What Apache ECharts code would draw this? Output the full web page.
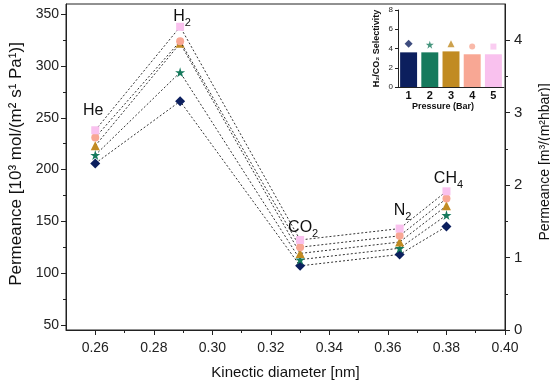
<!DOCTYPE html>
<html><head><meta charset="utf-8">
<script src="https://cdn.jsdelivr.net/npm/echarts@6/dist/echarts.min.js"></script>
<style>html,body{margin:0;padding:0;background:#fff}#c{width:550px;height:385px}</style>
</head><body><div id="c"></div>
<script>
// ---- data ----
const gases = ['He', 'H2', 'CO2', 'N2', 'CH4'];
const kineticDiameter = [0.26, 0.289, 0.33, 0.364, 0.38];
const permDiamond = [206, 266, 107, 118, 145];
const permStar = [214, 294, 113, 124, 156];
const permTriangle = [223, 322, 119, 130, 165];
const permCircle = [231, 324, 125, 136, 172];
const permSquare = [238, 338, 132, 143, 179];
const xTickLabels = [0.26, 0.28, 0.30, 0.32, 0.34, 0.36, 0.38, 0.40];
const xMinorTicks = [0.27, 0.29, 0.31, 0.33, 0.35, 0.37, 0.39];
const yTickLabels = [50, 100, 150, 200, 250, 300, 350];
const yMinorTicks = [75, 125, 175, 225, 275, 325];
const rightTickLabels = [0, 1, 2, 3, 4];
const rightMinorTicks = [0.5, 1.5, 2.5, 3.5];
const pressures = ['1', '2', '3', '4', '5'];
const selectivityBars = [3.6, 3.6, 3.7, 3.4, 3.4];
const selectivityMarkers = [4.5, 4.4, 4.5, 4.2, 4.2];

// ---- styles ----
const colors = ['#0c1f5e', '#167a5d', '#c18b22', '#f8a794', '#f9c1ee'];
const symbols = ['diamond', 'path://M50,0 L61,35 L98,35 L68,57 L79,91 L50,70 L21,91 L32,57 L2,35 L39,35 Z', 'triangle', 'circle', 'rect'];
const symbolSizes = [10, 10, 9, 8, 8];
const labelOffsets = [[-2, -4], [2, 10], [3, 8], [3, 2], [2, 7]];
const FONT = 'Liberation Sans, Arial, sans-serif';
const AX = '#222';

function richName(g) {
  return g.replace(/^([A-Za-z]+)(\d*)$/, (m, a, d) => '{a|' + a + '}' + (d ? '{s|' + d + '}' : ''));
}

const permSets = [permDiamond, permStar, permTriangle, permCircle, permSquare];
const lineSeries = permSets.map((vals, i) => ({
  type: 'line',
  xAxisIndex: 0, yAxisIndex: 0,
  data: vals.map((v, j) => {
    const item = { value: [kineticDiameter[j], v] };
    if (i === 4) {
      item.label = {
        show: true, position: 'top', distance: 4, offset: labelOffsets[j],
        formatter: richName(gases[j]),
        rich: {
          a: { fontSize: 16, fontFamily: FONT, color: '#111', lineHeight: 16, verticalAlign: 'top' },
          s: { fontSize: 11, fontFamily: FONT, color: '#111', lineHeight: 20, verticalAlign: 'bottom' }
        }
      };
    }
    return item;
  }),
  symbol: symbols[i], symbolSize: symbolSizes[i],
  itemStyle: { color: colors[i] },
  lineStyle: { color: '#333', width: 1, type: [2, 2] },
  z: 3 + i
}));

const chart = echarts.init(document.getElementById('c'), null, { renderer: 'canvas' });
const tickStyle = { color: AX, width: 1 };
chart.setOption({
  animation: false,
  textStyle: { fontFamily: FONT },
  grid: [
    { left: 66, right: 45, top: 4, bottom: 55, show: true, borderColor: AX, borderWidth: 1, containLabel: false, outerBoundsMode: 'none' },
    { left: 398, right: 46, top: 10, bottom: 298, show: false, containLabel: false, outerBoundsMode: 'none' }
  ],
  xAxis: [
    {
      type: 'value', gridIndex: 0, min: 0.25, max: 0.40, position: 'bottom',
      axisLine: { show: true, onZero: false, lineStyle: tickStyle },
      axisTick: { show: true, customValues: xTickLabels, length: 5, lineStyle: tickStyle },
      axisLabel: { customValues: xTickLabels, formatter: v => v.toFixed(2), margin: 11, fontSize: 14, color: AX, fontFamily: FONT },
      splitLine: { show: false },
      name: 'Kinectic diameter [nm]', nameLocation: 'middle', nameGap: 35,
      nameTextStyle: { fontSize: 15, color: '#111', fontFamily: FONT }
    },
    {
      type: 'value', gridIndex: 0, min: 0.25, max: 0.40, position: 'bottom',
      axisLine: { show: false },
      axisTick: { show: true, customValues: xMinorTicks, length: 3, lineStyle: tickStyle },
      axisLabel: { show: false }, splitLine: { show: false }
    },
    {
      type: 'category', gridIndex: 1, data: pressures,
      axisLine: { show: true, lineStyle: { color: AX, width: 1 } },
      axisTick: { show: false },
      axisLabel: { fontSize: 11, fontWeight: 'bold', color: '#111', margin: 3, fontFamily: FONT },
      name: 'Pressure (Bar)', nameLocation: 'middle', nameGap: 15,
      nameTextStyle: { fontSize: 9, fontWeight: 'bold', color: '#111', fontFamily: FONT, padding: [0, 16, 0, 0] }
    }
  ],
  yAxis: [
    {
      type: 'value', gridIndex: 0, min: 45, max: 360, position: 'left',
      axisLine: { show: true, lineStyle: tickStyle },
      axisTick: { show: true, customValues: yTickLabels, length: 5, lineStyle: tickStyle },
      axisLabel: { customValues: yTickLabels, margin: 7, fontSize: 14, color: AX, fontFamily: FONT },
      splitLine: { show: false },
      name: 'Permeance [10³ mol/(m² s¹ Pa¹)]', nameLocation: 'middle', nameGap: 34,
      nameTextStyle: { fontSize: 17, color: '#111', fontFamily: FONT, padding: [0, 0, 0, 6] }
    },
    {
      type: 'value', gridIndex: 0, min: 45, max: 360, position: 'left',
      axisLine: { show: false },
      axisTick: { show: true, customValues: yMinorTicks, length: 3, lineStyle: tickStyle },
      axisLabel: { show: false }, splitLine: { show: false }
    },
    {
      type: 'value', gridIndex: 0, min: 0, max: 4.5, position: 'right',
      axisLine: { show: true, lineStyle: tickStyle },
      axisTick: { show: true, customValues: rightTickLabels, length: 5, lineStyle: tickStyle },
      axisLabel: { customValues: rightTickLabels, margin: 9, fontSize: 15, color: AX, fontFamily: FONT },
      splitLine: { show: false },
      name: 'Permeance [m³/(m²hbar)]', nameLocation: 'middle', nameGap: 33, nameRotate: 90,
      nameTextStyle: { fontSize: 14, color: '#111', fontFamily: FONT, padding: [0, 0, 0, 10] }
    },
    {
      type: 'value', gridIndex: 0, min: 0, max: 4.5, position: 'right',
      axisLine: { show: false },
      axisTick: { show: true, customValues: rightMinorTicks, length: 3, lineStyle: tickStyle },
      axisLabel: { show: false }, splitLine: { show: false }
    },
    {
      type: 'value', gridIndex: 1, min: 0, max: 8, interval: 2, position: 'left',
      axisLine: { show: true, lineStyle: tickStyle },
      axisTick: { show: true, length: 3, lineStyle: tickStyle },
      axisLabel: { fontSize: 8, color: AX, margin: 5, fontFamily: FONT },
      splitLine: { show: false },
      name: 'H₂/CO₂ Selectivity', nameLocation: 'middle', nameGap: 17,
      nameTextStyle: { fontSize: 9, fontWeight: 'bold', color: '#111', fontFamily: FONT }
    }
  ],
  series: lineSeries.concat([
    {
      type: 'bar', xAxisIndex: 2, yAxisIndex: 4,
      data: selectivityBars.map((v, i) => ({ value: v, itemStyle: { color: colors[i] } })),
      barCategoryGap: '20%'
    },
    {
      type: 'scatter', xAxisIndex: 2, yAxisIndex: 4,
      data: selectivityMarkers.map((v, i) => ({ value: v, symbol: symbols[i], symbolSize: symbolSizes[i] - 2, itemStyle: { color: colors[i] } }))
    }
  ])
});
</script>
</body></html>
